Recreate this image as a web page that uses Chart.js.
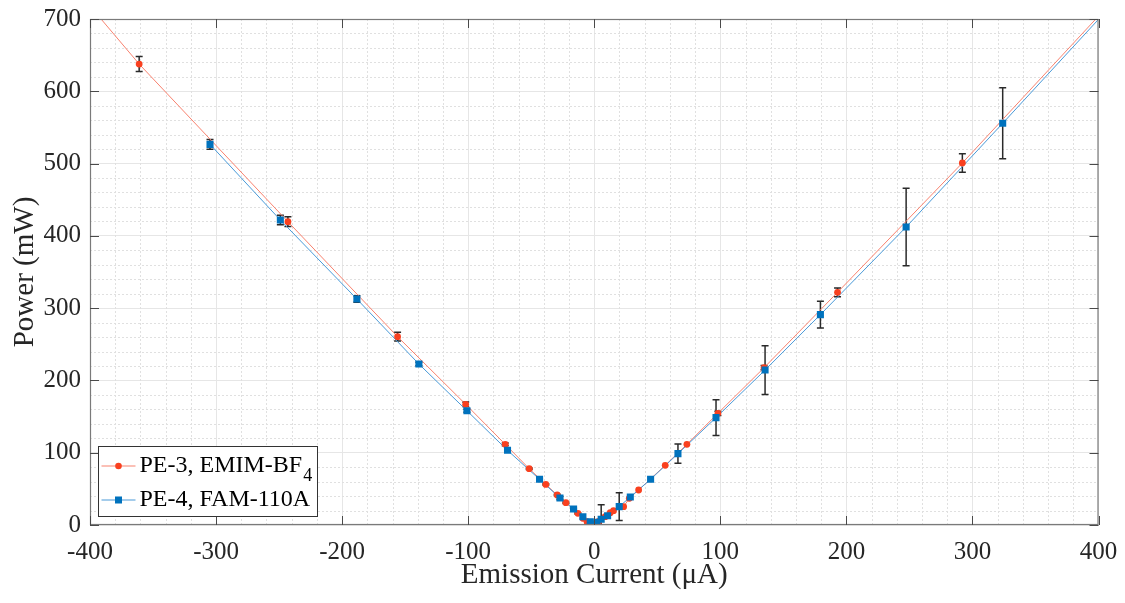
<!DOCTYPE html>
<html>
<head>
<meta charset="utf-8">
<script src="https://cdn.jsdelivr.net/npm/chart.js@4.4.1/dist/chart.umd.min.js"></script>
<style>
html,body{margin:0;padding:0;background:#ffffff;}
#wrap{width:1125px;height:603px;}
</style>
</head>
<body>
<div id="wrap"><canvas id="c" width="1125" height="603"></canvas></div>
<script>
// ---------- data ----------
const xTicks = [-400, -300, -200, -100, 0, 100, 200, 300, 400];
const yTicks = [0, 100, 200, 300, 400, 500, 600, 700];
const xMinorStep = 20;
const yMinorStep = 20;

const redLabel = 'PE-3, EMIM-BF\u2084';
const redX   = [-361, -243, -156, -102, -70.6, -51.6, -38.4, -29.4, -22.5, -13, -9, -5.8, -2.5, -1, 1, 3.5, 8.7, 12.7, 15.3, 23.3, 27.8, 35.2, 56.3, 73.5, 98.1, 134.7, 193, 292];
const redY   = [637.7, 419.6, 260.5, 167, 111.6, 77.9, 56.2, 41.5, 30.9, 16.1, 9.2, 4.6, 2, 1, 1.5, 5, 11.5, 17, 19.8, 25.3, 36.9, 48.4, 82.6, 111.6, 154.5, 217.6, 321.9, 500.8];
const redErr = [10.4, 6.7, 6, 3, 2, 1, 1, 1, 1, 1, 0, 0, 0, 0, 0, 0, 0, 0, 0, 0, 0, 0, 0, 0, 3, 3, 6, 12.9];
// line continuation beyond the plotted range
const redLineEndX = [-400, 400];
const redLineEndY = [718, 704];

const blueLabel = 'PE-4, FAM-110A';
const blueX   = [-304.8, -249, -188.3, -139.1, -101, -68.8, -43.4, -27.2, -16.4, -9, -3.2, -1, 0, 2.1, 5.5, 10.6, 19.8, 28.6, 44.7, 66.4, 96.6, 135.5, 179.4, 247.4, 324];
const blueY   = [526.6, 421.9, 312.6, 222.7, 158.1, 103.3, 63.2, 37.3, 22.1, 11.5, 4.6, 1.5, 0.5, 3.7, 8, 12.9, 25.4, 38.7, 63.2, 98.7, 148.5, 214.4, 291, 412.2, 555.7];
const blueErr = [6.7, 6.5, 4.5, 2.5, 2, 2, 1, 2, 1, 0, 0, 0, 0, 0, 20, 0, 19.1, 0, 0, 13.4, 24.7, 33.7, 18.4, 53.5, 49.1];
const blueLineEndX = [400];
const blueLineEndY = [699.5];

// ---------- helpers ----------
const FONT = "'Liberation Serif', serif";
Chart.defaults.font.family = FONT;
const TXT = '#262626';
const RED_M = '#F9401F', RED_L = '#F8826F';
const BLUE_M = '#0072BD', BLUE_L = '#4A9AD8';

function pts(xs, ys){ return xs.map((v,i)=>({x:v, y:ys[i]})); }
function linePts(xs, ys, ex, ey){ return pts(xs.concat(ex), ys.concat(ey)).sort((a,b)=>a.x-b.x); }

const errSeries = [
  {x: redX, y: redY, e: redErr},
  {x: blueX, y: blueY, e: blueErr}
];

// ---------- plugins ----------
const minorGrid = {
  id: 'minorGrid',
  beforeDatasetsDraw(chart){
    const {ctx, chartArea:a, scales:{x, y}} = chart;
    ctx.save();
    ctx.strokeStyle = '#e0e0e0';
    ctx.lineWidth = 1;
    ctx.setLineDash([2, 2]);
    for (let v = x.min; v <= x.max; v += xMinorStep){
      if (v % 100 === 0) continue;
      const p = Math.round(x.getPixelForValue(v)) + 0.5;
      ctx.beginPath(); ctx.moveTo(p, a.top); ctx.lineTo(p, a.bottom); ctx.stroke();
    }
    for (let v = y.min; v <= y.max; v += yMinorStep){
      if (v % 100 === 0) continue;
      const p = Math.round(y.getPixelForValue(v)) + 0.5;
      ctx.beginPath(); ctx.moveTo(a.left, p); ctx.lineTo(a.right, p); ctx.stroke();
    }
    ctx.restore();
  }
};

const errorBars = {
  id: 'errorBars',
  beforeDatasetsDraw(chart){
    const {ctx, chartArea:a, scales:{x, y}} = chart;
    ctx.save();
    ctx.beginPath(); ctx.rect(a.left, a.top, a.right-a.left, a.bottom-a.top); ctx.clip();
    ctx.strokeStyle = '#2a2a2a';
    ctx.lineWidth = 1.5;
    const cap = 3.5;
    errSeries.forEach(s => {
      s.x.forEach((xv, i) => {
        const e = s.e[i];
        if (!e) return;
        const px = x.getPixelForValue(xv);
        const t = y.getPixelForValue(s.y[i] + e);
        const b = y.getPixelForValue(s.y[i] - e);
        ctx.beginPath();
        ctx.moveTo(px, t); ctx.lineTo(px, b);
        ctx.moveTo(px-cap, t); ctx.lineTo(px+cap, t);
        ctx.moveTo(px-cap, b); ctx.lineTo(px+cap, b);
        ctx.stroke();
      });
    });
    ctx.restore();
  }
};

const boxAndLegend = {
  id: 'boxAndLegend',
  afterDraw(chart){
    const {ctx, chartArea:a, scales:{x, y}} = chart;
    ctx.save();
    // axes box
    ctx.strokeStyle = '#7a7a7a';
    ctx.lineWidth = 1.2;
    ctx.strokeRect(a.left+0.5, a.top+0.5, a.right-a.left-1, a.bottom-a.top-1);
    // inward ticks
    ctx.strokeStyle = '#4a4a4a';
    ctx.lineWidth = 1;
    const tl = 9;
    xTicks.forEach(v => {
      const p = Math.round(x.getPixelForValue(v)) + 0.5;
      ctx.beginPath();
      ctx.moveTo(p, a.bottom); ctx.lineTo(p, a.bottom - tl);
      ctx.moveTo(p, a.top); ctx.lineTo(p, a.top + tl);
      ctx.stroke();
    });
    yTicks.forEach(v => {
      const p = Math.round(y.getPixelForValue(v)) + 0.5;
      ctx.beginPath();
      ctx.moveTo(a.left, p); ctx.lineTo(a.left + tl, p);
      ctx.moveTo(a.right, p); ctx.lineTo(a.right - tl, p);
      ctx.stroke();
    });

    // legend box
    const lx = a.left + 8.5, ly = 446.5, lw = 219, lh = 70;
    ctx.fillStyle = '#ffffff';
    ctx.fillRect(lx, ly, lw, lh);
    ctx.strokeStyle = '#333333';
    ctx.lineWidth = 1;
    ctx.strokeRect(lx, ly, lw, lh);
    const rows = [
      {label: chart.data.datasets[2].label, line: RED_L, mark: RED_M, shape: 'circle', cy: 466},
      {label: chart.data.datasets[3].label, line: BLUE_L, mark: BLUE_M, shape: 'rect', cy: 500}
    ];
    rows.forEach(r => {
      ctx.strokeStyle = r.line; ctx.lineWidth = 1.2;
      ctx.beginPath(); ctx.moveTo(lx + 3, r.cy); ctx.lineTo(lx + 37, r.cy); ctx.stroke();
      ctx.fillStyle = r.mark;
      if (r.shape === 'circle'){ ctx.beginPath(); ctx.arc(lx + 20, r.cy, 3.3, 0, Math.PI*2); ctx.fill(); }
      else { ctx.fillRect(lx + 20 - 3.5, r.cy - 3.5, 7, 7); }
      ctx.fillStyle = '#000000';
      ctx.textBaseline = 'middle';
      ctx.textAlign = 'left';
      ctx.font = '24px ' + FONT;
      let main = r.label, sub = '';
      const m = r.label.match(/[\u2080-\u2089]+$/);
      if (m){ main = r.label.slice(0, m.index); sub = m[0].split('').map(c => String.fromCharCode(c.charCodeAt(0) - 0x2080 + 48)).join(''); }
      const tx = lx + 41;
      ctx.fillText(main, tx, r.cy);
      if (sub){
        const w = ctx.measureText(main).width;
        ctx.font = '18px ' + FONT;
        ctx.fillText(sub, tx + w + 1, r.cy + 10);
      }
    });
    ctx.restore();
  }
};

// ---------- chart ----------
new Chart(document.getElementById('c'), {
  type: 'scatter',
  data: {
    datasets: [
      {label: redLabel + ' line', data: linePts(redX, redY, redLineEndX, redLineEndY), showLine: true, borderColor: RED_L, borderWidth: 1, pointRadius: 0, order: 4},
      {label: blueLabel + ' line', data: linePts(blueX, blueY, blueLineEndX, blueLineEndY), showLine: true, borderColor: BLUE_L, borderWidth: 1, pointRadius: 0, order: 3},
      {label: redLabel, data: pts(redX, redY), showLine: false, pointStyle: 'circle', pointRadius: 3.4, backgroundColor: RED_M, borderColor: RED_M, borderWidth: 0, order: 2},
      {label: blueLabel, data: pts(blueX, blueY), showLine: false, pointStyle: 'rect', pointRadius: 5, backgroundColor: BLUE_M, borderColor: BLUE_M, borderWidth: 0, order: 1}
    ]
  },
  options: {
    responsive: false,
    animation: false,
    devicePixelRatio: 1,
    layout: {padding: {top: 19, right: 26.5, left: 0, bottom: 0}},
    plugins: {legend: {display: false}, tooltip: {enabled: false}},
    scales: {
      x: {
        type: 'linear', min: -400, max: 400,
        afterBuildTicks: s => { s.ticks = xTicks.map(v => ({value: v})); },
        afterFit: s => { s.height = 78; s.paddingLeft = 0; s.paddingRight = 0; },
        grid: {color: '#e6e6e6', lineWidth: 1, drawTicks: false},
        border: {display: false},
        ticks: {color: TXT, font: {family: FONT, size: 25}, padding: 12, maxRotation: 0},
        title: {display: true, text: 'Emission Current (\u03bcA)', color: TXT, font: {family: FONT, size: 29}, padding: {top: 0, bottom: 10}}
      },
      y: {
        type: 'linear', min: 0, max: 700,
        afterBuildTicks: s => { s.ticks = yTicks.map(v => ({value: v})); },
        afterFit: s => { s.width = 90; s.paddingTop = 0; s.paddingBottom = 0; },
        grid: {color: '#e6e6e6', lineWidth: 1, drawTicks: false},
        border: {display: false},
        ticks: {color: TXT, font: {family: FONT, size: 25}, padding: 9},
        title: {display: true, text: 'Power (mW)', color: TXT, font: {family: FONT, size: 29}, padding: {top: 8, bottom: 0}}
      }
    }
  },
  plugins: [minorGrid, errorBars, boxAndLegend]
});
</script>
</body>
</html>
